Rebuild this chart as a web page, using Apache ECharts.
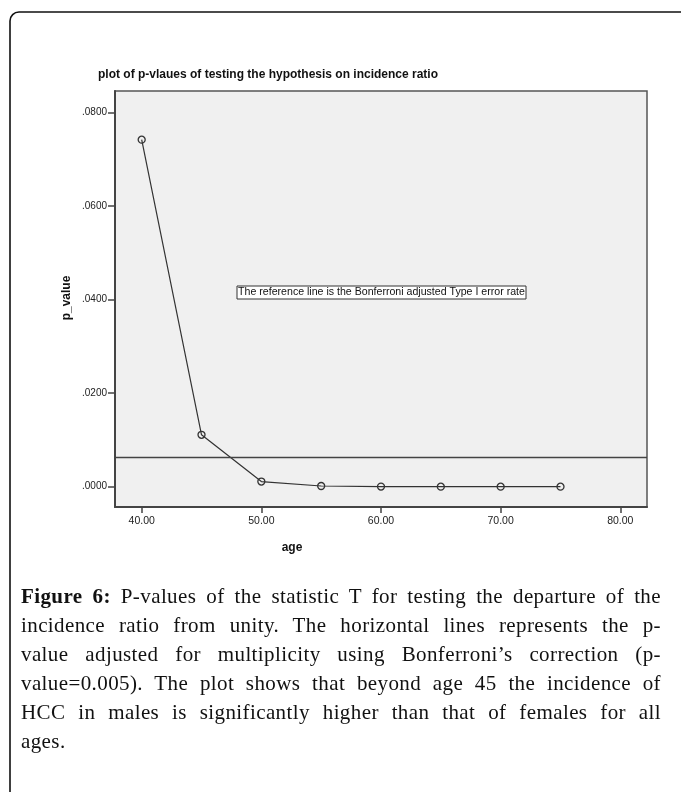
<!DOCTYPE html>
<html>
<head>
<meta charset="utf-8">
<script src="https://cdn.jsdelivr.net/npm/echarts@6/dist/echarts.min.js"></script>
<style>
html,body{margin:0;padding:0;background:#fff;}
#wrap{position:relative;width:681px;height:792px;overflow:hidden;}
#chart{position:absolute;left:0;top:0;width:681px;height:792px;}
#caption{position:absolute;left:21px;top:582px;width:640px;font-family:"Liberation Serif",serif;font-size:21px;letter-spacing:0.4px;color:#111;}
#caption div{line-height:29px;height:29px;text-align:justify;text-align-last:justify;white-space:nowrap;}
#caption div.last{text-align-last:left;}
#caption b{font-weight:bold;}
</style>
</head>
<body>
<div id="wrap">
<div id="chart"></div>
<div id="caption">
<div><b>Figure 6:</b> P-values of the statistic T for testing the departure of the</div>
<div>incidence ratio from unity. The horizontal lines represents the p-</div>
<div>value adjusted for multiplicity using Bonferroni’s correction (p-</div>
<div>value=0.005). The plot shows that beyond age 45 the incidence of</div>
<div>HCC in males is significantly higher than that of females for all</div>
<div class="last">ages.</div>
</div>
</div>
<script>
// Data
const ages = [40, 45, 50, 55, 60, 65, 70, 75];
const pValues = [0.0742, 0.0111, 0.0011, 0.00015, 0.00002, 0.00001, 0.00001, 0.00001];
const referenceLine = 0.00625;
const xTicks = [40, 50, 60, 70, 80];
const yTicks = [0, 0.02, 0.04, 0.06, 0.08];
const titleText = 'plot of p-vlaues of testing the hypothesis on incidence ratio';
const noteText = 'The reference line is the Bonferroni adjusted Type I error rate';

const chart = echarts.init(document.getElementById('chart'), null, {renderer: 'canvas'});
const sans = 'Liberation Sans, Arial, sans-serif';

const option = {
  animation: false,
  backgroundColor: '#fff',
  grid: {left: 115, top: 91, right: 34, bottom: 285, show: true, backgroundColor: '#f0f0f0', borderColor: '#555', borderWidth: 1.5},
  xAxis: {
    type: 'value', min: 37.77, max: 82.23,
    axisLine: {show: true, onZero: false, lineStyle: {color: '#444', width: 2}},
    axisTick: {show: true, length: 6, customValues: xTicks, lineStyle: {color: '#444', width: 1.5}},
    axisLabel: {customValues: xTicks, margin: 9, color: '#222', fontFamily: sans, fontSize: 10.5,
      formatter: v => v.toFixed(2)},
    splitLine: {show: false}
  },
  yAxis: {
    type: 'value', min: -0.00434, max: 0.0846,
    axisLine: {show: true, onZero: false, lineStyle: {color: '#444', width: 2}},
    axisTick: {show: true, length: 7, customValues: yTicks, lineStyle: {color: '#444', width: 1.5}},
    axisLabel: {customValues: yTicks, margin: 8, color: '#222', fontFamily: sans, fontSize: 10,
      formatter: v => v.toFixed(4).replace(/^0/, '')},
    splitLine: {show: false}
  },
  series: [{
    type: 'line',
    data: ages.map((a, i) => [a, pValues[i]]),
    symbol: 'circle', symbolSize: 7,
    lineStyle: {color: '#333', width: 1.2},
    itemStyle: {color: 'rgba(0,0,0,0)', borderColor: '#333', borderWidth: 1.3},
    markLine: {
      silent: true, precision: 6, symbol: ['none', 'none'], label: {show: false},
      lineStyle: {color: '#444', width: 1.3, type: 'solid'},
      data: [{yAxis: referenceLine}]
    }
  }],
  graphic: [
    {type: 'rect', shape: {x: 10, y: 12, width: 760, height: 900, r: 9}, style: {fill: 'none', stroke: '#111', lineWidth: 1.6}, silent: true},
    {type: 'text', x: 268, y: 75, style: {text: titleText, font: 'bold 12px ' + sans, fill: '#111', align: 'center', verticalAlign: 'middle'}},
    {type: 'text', x: 67, y: 298, rotation: Math.PI / 2, style: {text: 'p_value', font: 'bold 12px ' + sans, fill: '#111', align: 'center', verticalAlign: 'middle'}},
    {type: 'text', x: 292, y: 548, style: {text: 'age', font: 'bold 12px ' + sans, fill: '#111', align: 'center', verticalAlign: 'middle'}},
    {type: 'rect', shape: {x: 237, y: 286, width: 289, height: 13}, style: {fill: '#fff', stroke: '#333', lineWidth: 1}},
    {type: 'text', x: 381.5, y: 292.5, style: {text: noteText, font: '10.6px ' + sans, fill: '#111', align: 'center', verticalAlign: 'middle'}}
  ]
};
chart.setOption(option);
</script>
</body>
</html>
